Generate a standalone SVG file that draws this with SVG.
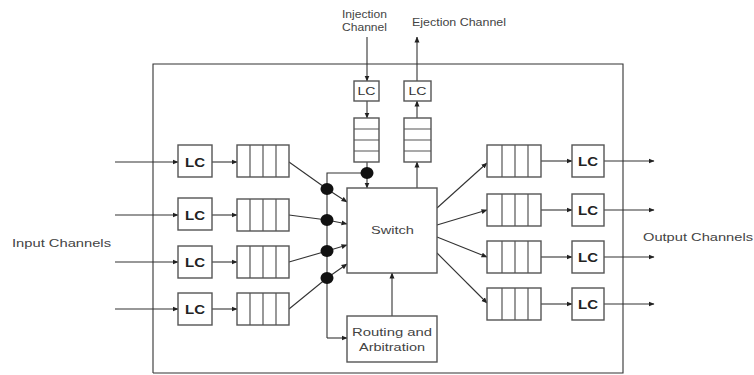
<svg xmlns="http://www.w3.org/2000/svg" width="754" height="375" viewBox="0 0 754 375">
<defs>
<marker id="ah" markerWidth="6" markerHeight="6" refX="5.5" refY="3" orient="auto" markerUnits="userSpaceOnUse">
<path d="M0,0.5 L6,3 L0,5.5 Z" fill="#222"/>
</marker>
</defs>
<style>
.box{fill:#fff;stroke:#555;stroke-width:1.4}
.cell{fill:none;stroke:#555;stroke-width:1.2}
.ln{fill:none;stroke:#333;stroke-width:1.1}
.ar{fill:none;stroke:#333;stroke-width:1.1;marker-end:url(#ah)}
.t{font-family:"Liberation Sans",Arial,sans-serif;fill:#444;font-size:11px}
.lc{font-family:"Liberation Sans",Arial,sans-serif;fill:#222;font-size:13px;font-weight:bold;text-anchor:middle}
.lcs{font-family:"Liberation Sans",Arial,sans-serif;fill:#333;font-size:11px;text-anchor:middle}
.dot{fill:#111}
</style>
<rect width="754" height="375" fill="#fff"/>
<g id="router-outline"><path class="ln" d="M153,373 V64 H623 V373 H153" stroke="#555" stroke-width="1.3"/></g>

<g id="connectors">
<!-- input channels -->
<line class="ar" x1="115" y1="162" x2="178" y2="162"/>
<line class="ar" x1="115" y1="215" x2="178" y2="215"/>
<line class="ar" x1="115" y1="262" x2="178" y2="262"/>
<line class="ar" x1="115" y1="309" x2="178" y2="309"/>
<!-- LC to queue -->
<line class="ar" x1="212" y1="162" x2="237" y2="162"/>
<line class="ar" x1="212" y1="215" x2="237" y2="215"/>
<line class="ar" x1="212" y1="262" x2="237" y2="262"/>
<line class="ar" x1="212" y1="309" x2="237" y2="309"/>
<!-- queue to switch via dots -->
<polyline class="ar" points="289,162 327,189 347,202"/>
<polyline class="ar" points="289,215 327,220 347,224"/>
<polyline class="ar" points="289,262 327,251 347,245"/>
<polyline class="ar" points="289,309 327,278 347,264"/>
<!-- arbitration bus -->
<polyline class="ln" points="367,173 327,173 327,338"/>
<line class="ar" x1="327" y1="338" x2="347" y2="338"/>
<line class="ar" x1="392" y1="316" x2="392" y2="273"/>
<!-- injection -->
<line class="ar" x1="367" y1="37" x2="367" y2="81"/>
<line class="ar" x1="367" y1="101" x2="367" y2="118"/>
<line class="ln" x1="367" y1="162" x2="367" y2="170"/>
<line class="ar" x1="367" y1="176" x2="367" y2="188"/>
<!-- ejection -->
<line class="ar" x1="417" y1="188" x2="417" y2="162"/>
<line class="ar" x1="417" y1="118" x2="417" y2="101"/>
<line class="ar" x1="417" y1="81" x2="417" y2="37"/>
<!-- switch to output queues -->
<line class="ar" x1="437" y1="208" x2="487" y2="163"/>
<line class="ar" x1="437" y1="225" x2="487" y2="210"/>
<line class="ar" x1="437" y1="237" x2="487" y2="257"/>
<line class="ar" x1="437" y1="253" x2="487" y2="303"/>
<!-- output queue to LC -->
<line class="ar" x1="541" y1="161" x2="572" y2="161"/>
<line class="ar" x1="541" y1="210" x2="572" y2="210"/>
<line class="ar" x1="541" y1="257" x2="572" y2="257"/>
<line class="ar" x1="541" y1="304" x2="572" y2="304"/>
<!-- output channels -->
<line class="ar" x1="604" y1="161" x2="654" y2="161"/>
<line class="ar" x1="604" y1="210" x2="654" y2="210"/>
<line class="ar" x1="604" y1="257" x2="654" y2="257"/>
<line class="ar" x1="604" y1="304" x2="654" y2="304"/>
</g>

<g id="dots">
<ellipse class="dot" cx="327" cy="189" rx="6.5" ry="6"/>
<ellipse class="dot" cx="327" cy="220" rx="6.5" ry="6"/>
<ellipse class="dot" cx="327" cy="251" rx="6.5" ry="6"/>
<ellipse class="dot" cx="327" cy="278" rx="6.5" ry="6"/>
<ellipse class="dot" cx="367" cy="173" rx="6.5" ry="6"/>
</g>

<g id="in-lc-1"><rect class="box" x="178" y="145" width="34" height="32"/><text class="lc" x="195" y="167" textLength="20" lengthAdjust="spacingAndGlyphs">LC</text></g>
<g id="in-lc-2"><rect class="box" x="178" y="198" width="34" height="32"/><text class="lc" x="195" y="220" textLength="20" lengthAdjust="spacingAndGlyphs">LC</text></g>
<g id="in-lc-3"><rect class="box" x="178" y="246" width="34" height="32"/><text class="lc" x="195" y="267" textLength="20" lengthAdjust="spacingAndGlyphs">LC</text></g>
<g id="in-lc-4"><rect class="box" x="178" y="293" width="34" height="32"/><text class="lc" x="195" y="314" textLength="20" lengthAdjust="spacingAndGlyphs">LC</text></g>

<g id="in-q-1"><rect class="box" x="237" y="145" width="52" height="32"/><path class="cell" d="M250,145V177M263,145V177M276,145V177"/></g>
<g id="in-q-2"><rect class="box" x="237" y="199" width="52" height="32"/><path class="cell" d="M250,199V231M263,199V231M276,199V231"/></g>
<g id="in-q-3"><rect class="box" x="237" y="246" width="52" height="32"/><path class="cell" d="M250,246V278M263,246V278M276,246V278"/></g>
<g id="in-q-4"><rect class="box" x="237" y="293" width="52" height="32"/><path class="cell" d="M250,293V325M263,293V325M276,293V325"/></g>

<g id="switch"><rect class="box" x="347" y="188" width="90" height="85"/><text class="t" x="371" y="234" textLength="43" lengthAdjust="spacingAndGlyphs">Switch</text></g>
<g id="routing"><rect class="box" x="347" y="316" width="90" height="46"/><text class="t" x="352" y="336" textLength="80" lengthAdjust="spacingAndGlyphs">Routing and</text><text class="t" x="359" y="351" textLength="66" lengthAdjust="spacingAndGlyphs">Arbitration</text></g>

<g id="inj-lc"><rect class="box" x="354" y="81" width="25" height="20"/><text class="lcs" x="366.5" y="95" textLength="18" lengthAdjust="spacingAndGlyphs">LC</text></g>
<g id="inj-q"><rect class="box" x="354" y="118" width="25" height="44"/><path class="cell" d="M354,129H379M354,140H379M354,151H379"/></g>
<g id="ej-lc"><rect class="box" x="404" y="81" width="27" height="20"/><text class="lcs" x="417.5" y="95" textLength="18" lengthAdjust="spacingAndGlyphs">LC</text></g>
<g id="ej-q"><rect class="box" x="404" y="118" width="27" height="44"/><path class="cell" d="M404,129H431M404,140H431M404,151H431"/></g>

<g id="out-q-1"><rect class="box" x="487" y="145" width="54" height="32"/><path class="cell" d="M502,145V177M515,145V177M528,145V177"/></g>
<g id="out-q-2"><rect class="box" x="487" y="194" width="54" height="32"/><path class="cell" d="M502,194V226M515,194V226M528,194V226"/></g>
<g id="out-q-3"><rect class="box" x="487" y="241" width="54" height="32"/><path class="cell" d="M502,241V273M515,241V273M528,241V273"/></g>
<g id="out-q-4"><rect class="box" x="487" y="288" width="54" height="32"/><path class="cell" d="M502,288V320M515,288V320M528,288V320"/></g>

<g id="out-lc-1"><rect class="box" x="572" y="145" width="32" height="32"/><text class="lc" x="588" y="166" textLength="20" lengthAdjust="spacingAndGlyphs">LC</text></g>
<g id="out-lc-2"><rect class="box" x="572" y="194" width="32" height="32"/><text class="lc" x="588" y="215" textLength="20" lengthAdjust="spacingAndGlyphs">LC</text></g>
<g id="out-lc-3"><rect class="box" x="572" y="241" width="32" height="32"/><text class="lc" x="588" y="262" textLength="20" lengthAdjust="spacingAndGlyphs">LC</text></g>
<g id="out-lc-4"><rect class="box" x="572" y="288" width="32" height="32"/><text class="lc" x="588" y="309" textLength="20" lengthAdjust="spacingAndGlyphs">LC</text></g>

<g id="labels">
<text class="t" x="342" y="18" textLength="45" lengthAdjust="spacingAndGlyphs">Injection</text>
<text class="t" x="342" y="31" textLength="45" lengthAdjust="spacingAndGlyphs">Channel</text>
<text class="t" x="412" y="26" textLength="94" lengthAdjust="spacingAndGlyphs">Ejection Channel</text>
<text class="t" x="12" y="247" textLength="99" lengthAdjust="spacingAndGlyphs">Input Channels</text>
<text class="t" x="643" y="241" textLength="110" lengthAdjust="spacingAndGlyphs">Output Channels</text>
</g>
</svg>
